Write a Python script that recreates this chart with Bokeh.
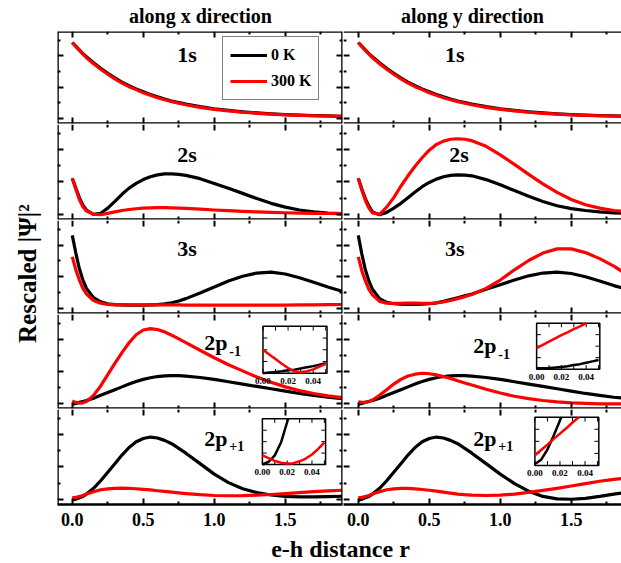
import math
from bokeh.plotting import figure
from bokeh.models import Range1d, FixedTicker, LinearAxis, Label, Legend, LegendItem
from bokeh.layouts import row, column
from bokeh.embed import file_html
from bokeh.resources import INLINE
from bokeh.core.properties import value

# ---------------- data (rescaled |Psi|^2) ----------------
R = [0, 0.025, 0.05, 0.075, 0.1, 0.15, 0.2, 0.25, 0.3, 0.35, 0.4, 0.45, 0.5, 0.55, 0.6,
     0.65, 0.7, 0.75, 0.8, 0.9, 1.0, 1.1, 1.2, 1.3, 1.4, 1.5, 1.6, 1.7, 1.8, 1.9]

S1_X_0K   = [88, 84, 80, 76, 72.5, 66, 60, 54.5, 49.5, 45, 41, 37.5, 34.5, 31.6, 29, 26.6, 24.5, 22.7, 21, 18.3, 16, 14.2, 12.7, 11.5, 10.5, 9.7, 9.1, 8.6, 8.2, 7.8]
S1_X_300K = [88, 83.5, 79.5, 75.5, 71.5, 65, 59, 53.5, 48.5, 44, 40, 36.8, 33.5, 30.7, 28, 25.8, 23.8, 22.0, 20.4, 17.6, 15.4, 13.7, 12.2, 11.1, 10.2, 9.4, 8.8, 8.4, 8.0, 7.7]
S1_Y_0K   = [88, 84, 80, 76, 72.5, 66, 60, 54.5, 49.5, 45, 41, 37.5, 34.5, 31.6, 29, 26.6, 24.5, 22.7, 21, 18.3, 16, 14.2, 12.7, 11.5, 10.5, 9.7, 9.1, 8.6, 8.2, 7.8]
S1_Y_300K = [88, 83.5, 79.5, 75.5, 71.5, 65, 59, 53.5, 48.5, 44, 40, 36.8, 33.5, 30.7, 28, 25.8, 23.8, 22.0, 20.4, 17.6, 15.4, 13.7, 12.2, 11.1, 10.2, 9.4, 8.8, 8.4, 8.0, 7.7]

S2_X_0K   = [43.4, 33, 23, 15, 10, 5.5, 6.5, 12, 19, 26.5, 33, 38, 42, 45, 47, 48, 48, 47.5, 46.5, 43, 38, 33, 27.5, 22, 17, 13, 10, 8, 6.8, 6.2]
S2_X_300K = [43.4, 32, 21, 13.5, 9, 5.5, 5, 6.5, 8, 9.5, 10.5, 11.3, 12, 12.3, 12.5, 12.5, 12.3, 12, 11.8, 11, 10, 9.3, 8.6, 8, 7.5, 7.1, 6.8, 6.5, 6.3, 6.2]
S2_Y_0K   = [43.4, 32, 22, 14, 8, 5, 7.5, 12, 17, 23, 29, 34.5, 39, 42.5, 45, 46.5, 47, 46.8, 46, 42, 36.5, 30.5, 24.5, 19, 14.5, 11.5, 9.5, 8, 7, 6.5]
S2_Y_300K = [43.4, 31, 20, 12, 7, 5.5, 13, 23, 35, 46, 56, 65, 73, 79, 82.5, 84.5, 85, 84.5, 83, 77, 68, 58, 47.5, 37.5, 28.5, 21, 15.5, 12, 9.5, 8]

S3_X_0K   = [84, 65, 48, 36, 27, 17, 12.5, 10.5, 9.5, 9.2, 9, 9, 9, 9.2, 9.5, 10.3, 11.5, 13.5, 16, 22, 28.5, 35, 40, 43.5, 44.5, 42.5, 38.5, 33.5, 28.5, 24]
S3_X_300K = [61, 47, 36, 27, 21, 14, 11, 9.8, 9.3, 9.2, 9.2, 9.2, 9.3, 9.3, 9.3, 9.3, 9.2, 9.2, 9.1, 9, 9, 9, 8.9, 8.9, 9, 9.1, 9.2, 9.3, 9.5, 9.7]
S3_Y_0K   = [84, 64, 47, 35, 26, 16, 12, 10.5, 10, 9.8, 9.8, 10, 10.5, 11.5, 13, 15, 17, 19, 21, 26, 31, 36, 40.5, 43.5, 44.5, 43, 39.5, 35, 30, 25.5]
S3_Y_300K = [61, 46, 35, 26, 20, 13, 11, 10.8, 11, 11.2, 11.2, 11, 10.8, 11.3, 12.5, 14, 16, 18, 20.5, 27, 36, 47, 57, 65, 69.5, 69.5, 65.5, 59, 51, 41]

P1M_X_0K   = [4.5, 5.5, 6.5, 7.5, 8.5, 11, 14, 17, 20, 23, 26, 28.7, 31, 32.7, 34, 34.7, 35, 35, 34.5, 33, 31, 28.5, 26, 23.5, 21, 18.5, 16, 14, 12, 10.5]
P1M_X_300K = [8, 6.5, 5.8, 6, 7.5, 14, 24, 36, 48, 59.5, 70, 78.5, 83.5, 85, 84, 81.5, 78, 74, 70, 62, 54, 46.5, 40, 33.5, 28, 23, 19, 16, 13.5, 11.5]
P1M_Y_0K   = [4.5, 5.5, 6.5, 7.5, 8.5, 11, 14, 17, 20, 23, 26, 28.7, 31, 32.7, 34, 34.7, 35, 35, 34.5, 33, 31, 28.5, 26, 23.5, 21, 18.5, 16, 14, 12, 10.5]
P1M_Y_300K = [7, 6.5, 6.5, 7.5, 9, 14, 20, 26, 31, 34.5, 36.5, 37.5, 37, 35.8, 34, 32, 29.5, 27.2, 25, 20.5, 16.5, 13, 10.5, 8.5, 7, 6, 5.5, 5, 5, 5]

P1P_X_0K   = [4.5, 5.5, 7, 8.5, 11, 17, 25, 34, 43, 52, 60, 66, 69.5, 71, 70, 67.5, 64, 59, 54, 43, 32, 23, 16.5, 12.5, 10, 8.5, 8, 8, 8.3, 8.7]
P1P_X_300K = [7, 7.5, 8.5, 9.5, 11, 13.5, 15.5, 16.5, 17, 17.2, 17, 16.6, 16, 15.3, 14.5, 13.8, 13, 12.2, 11.5, 10.3, 9.5, 9.2, 9.3, 9.8, 10.5, 11.5, 12.5, 13.5, 14.3, 15]
P1P_Y_0K   = [4.5, 5.5, 7, 8.5, 11, 17, 25, 34, 43, 52, 60, 66, 69.5, 71, 70, 67.5, 64, 59, 54, 43, 32, 22, 14, 8.5, 6, 5.5, 6.5, 8.5, 11, 13]
P1P_Y_300K = [7, 7.5, 8.5, 9.5, 11, 13.5, 15.5, 16.5, 17, 17, 16.5, 15.8, 15, 14, 13, 12, 11, 10.3, 9.8, 9.5, 9.8, 11, 12.8, 14.8, 17, 19.5, 22, 24.5, 26.5, 28]

# insets (small r)
IN_R = [0, 0.005, 0.01, 0.015, 0.02, 0.025, 0.03, 0.035, 0.04, 0.045, 0.05]
IN_P1M_X_0K   = [0.0, 0.012, 0.025, 0.04, 0.06, 0.075, 0.1, 0.125, 0.15, 0.18, 0.21]
IN_P1M_X_300K = [0.5, 0.4, 0.3, 0.2, 0.11, 0.04, 0.02, 0.04, 0.08, 0.14, 0.2]
IN_P1M_Y_0K   = [0.02, 0.022, 0.025, 0.035, 0.05, 0.065, 0.09, 0.11, 0.14, 0.17, 0.2]
IN_R_P1M_Y_300K = [0, 0.005, 0.01, 0.015, 0.02, 0.025, 0.03, 0.035, 0.04]
IN_P1M_Y_300K = [0.46, 0.53, 0.6, 0.67, 0.74, 0.8, 0.87, 0.93, 1.0]
IN_R_P1P_X_0K = [0, 0.005, 0.01, 0.015, 0.02, 0.0208]
IN_P1P_X_0K   = [0.0, 0.06, 0.2, 0.48, 0.93, 1.0]
IN_P1P_X_300K = [0.2, 0.14, 0.08, 0.04, 0.02, 0.03, 0.07, 0.13, 0.22, 0.34, 0.48]
IN_R_P1P_Y_0K = [0, 0.005, 0.01, 0.015, 0.02, 0.021]
IN_P1P_Y_0K   = [0.03, 0.12, 0.33, 0.62, 0.93, 1.0]
IN_R_P1P_Y_300K = [0, 0.005, 0.01, 0.015, 0.02, 0.025, 0.03, 0.035]
IN_P1P_Y_300K = [0.21, 0.32, 0.43, 0.55, 0.66, 0.77, 0.89, 1.0]

X_TICKS = [0.0, 0.5, 1.0, 1.5]
X_TICK_LABELS = ["0.0", "0.5", "1.0", "1.5"]
X_MINOR = [0.25, 0.75, 1.25, 1.75]
Y_TICKS = [5.5, 39.5, 73.5]
Y_MINOR = [22.5, 56.5, 90.5]
IN_X_TICKS = [0.0, 0.02, 0.04]
IN_X_TICK_LABELS = ["0.00", "0.02", "0.04"]
IN_X_MINOR = [0.01, 0.03, 0.05]
IN_Y_TICKS = [0.25, 0.5, 0.75]

# ---------------- layout constants ----------------
FONT = "Liberation Serif"
PX_PER_UNIT = 142.0
X0 = -0.104
LEFT_W, RIGHT_W = 285, 278
ROW_H = [92, 95, 93, 94, 95]
TITLE_H = 29
YLAB_W = 55
BORDER_B = 27
RED = "#ff0000"


def make_axis(ticker, fixed=None, line=True, labels=False):
    kw = {}
    if fixed is not None:
        kw["fixed_location"] = fixed
    ax = LinearAxis(ticker=ticker, axis_line_width=2.6,
                    axis_line_color="black" if line else None,
                    major_tick_in=6, major_tick_out=0,
                    minor_tick_in=3, minor_tick_out=0, major_tick_line_width=2,
                    minor_tick_line_width=2, major_tick_line_color="black",
                    minor_tick_line_color="black", major_label_standoff=8, **kw)
    if labels:
        ax.major_label_overrides = {t: l for t, l in zip(X_TICKS, X_TICK_LABELS)}
        ax.major_label_text_font = FONT
        ax.major_label_text_font_style = "bold"
        ax.major_label_text_font_size = "18px"
        ax.major_label_text_color = "black"
    else:
        ax.major_label_text_color = None
    return ax


def blank_fig(w, h, xr, yr):
    return figure(width=w, height=h, x_range=xr, y_range=yr, x_axis_type=None,
                  y_axis_type=None, toolbar_location=None, output_backend="svg",
                  outline_line_color=None, min_border=0, min_border_left=0,
                  min_border_right=0, min_border_top=0, min_border_bottom=0)


def panel(col, ri, y0k, y300k):
    w = LEFT_W if col == 0 else RIGHT_W
    h = ROW_H[ri]
    bl = 2 if col == 0 else 0
    br = 1 if col == 0 else 0
    bt = 2 if ri == 0 else 0
    bb = BORDER_B if ri == 4 else 1
    xr = Range1d(X0, X0 + w / PX_PER_UNIT)
    yr = Range1d(0, 100)
    p = figure(width=w + bl + br, height=h + bt + bb, x_range=xr, y_range=yr,
               x_axis_type=None, y_axis_type=None, toolbar_location=None,
               output_backend="svg", outline_line_color=None, min_border=0,
               min_border_left=bl, min_border_right=br, min_border_top=bt,
               min_border_bottom=bb)
    if ri == 4:
        p.add_layout(make_axis(FixedTicker(ticks=X_TICKS, minor_ticks=X_MINOR), labels=True), "below")
    else:
        p.add_layout(make_axis(FixedTicker(ticks=X_TICKS, minor_ticks=X_MINOR), 0), "below")
    p.add_layout(make_axis(FixedTicker(ticks=X_TICKS, minor_ticks=X_MINOR), 100,
                           line=(ri == 0)), "above")
    p.add_layout(make_axis(FixedTicker(ticks=Y_TICKS, minor_ticks=Y_MINOR), xr.start,
                           line=(col == 0)), "left")
    if col == 0:
        p.add_layout(make_axis(FixedTicker(ticks=Y_TICKS, minor_ticks=Y_MINOR), xr.end), "right")
    lb = p.line(R, y0k, line_color="black", line_width=3.2, line_join="round")
    lr = p.line(R, y300k, line_color=RED, line_width=3.2, line_join="round")
    return p, lb, lr


def name_label(p, x, y, main, sub=None, sub_dy=-8, sub_dx=25):
    p.add_layout(Label(x=x, y=y, text=main, text_font=FONT, text_font_style="bold",
                       text_font_size="22px", text_align="left",
                       text_baseline="middle", text_color="black"))
    if sub:
        p.add_layout(Label(x=x, y=y, x_offset=sub_dx, y_offset=sub_dy, text=sub,
                           text_font=FONT, text_font_style="bold",
                           text_font_size="14px", text_align="left",
                           text_baseline="middle", text_color="black"))


def inset(p, xt, yt, curves):
    sub = p.subplot(x_source=Range1d(0, 0.051), y_source=Range1d(0, 1),
                    x_target=Range1d(*xt), y_target=Range1d(*yt))
    sub.quad(left=[0], right=[0.051], bottom=[0], top=[1], fill_color="white",
             line_color="black", line_width=1.5)
    allx = IN_X_TICKS + IN_X_MINOR
    sub.segment(x0=allx, y0=[0] * len(allx), x1=allx, y1=[0.09] * len(allx),
                line_color="black", line_width=1)
    sub.segment(x0=allx, y0=[1] * len(allx), x1=allx, y1=[0.91] * len(allx),
                line_color="black", line_width=1)
    ny = len(IN_Y_TICKS)
    sub.segment(x0=[0] * ny, y0=IN_Y_TICKS, x1=[0.0035] * ny, y1=IN_Y_TICKS,
                line_color="black", line_width=1)
    sub.segment(x0=[0.051] * ny, y0=IN_Y_TICKS, x1=[0.0475] * ny, y1=IN_Y_TICKS,
                line_color="black", line_width=1)
    sub.text(x=IN_X_TICKS, y=[-0.1] * len(IN_X_TICKS), text=IN_X_TICK_LABELS,
             text_font=value(FONT), text_font_style="bold", text_font_size="9px",
             text_align="center", text_baseline="top", text_color="black")
    for xs, ys, c in curves:
        sub.line(xs, ys, line_color=c, line_width=2.5, line_join="round")


# ---------------- build panels ----------------
data = [
    (S1_X_0K, S1_X_300K, S1_Y_0K, S1_Y_300K),
    (S2_X_0K, S2_X_300K, S2_Y_0K, S2_Y_300K),
    (S3_X_0K, S3_X_300K, S3_Y_0K, S3_Y_300K),
    (P1M_X_0K, P1M_X_300K, P1M_Y_0K, P1M_Y_300K),
    (P1P_X_0K, P1P_X_300K, P1P_Y_0K, P1P_Y_300K),
]
rows = []
panels = []
for ri, (a, b, c, d) in enumerate(data):
    pl, lb, lr = panel(0, ri, a, b)
    pr, _, _ = panel(1, ri, c, d)
    panels.append((pl, pr))
    rows.append(row(pl, pr, spacing=0))
    if ri == 0:
        leg = Legend(items=[LegendItem(label="0 K", renderers=[lb]),
                            LegendItem(label="300 K", renderers=[lr])],
                     location=(165, 23), border_line_color="black",
                     border_line_width=1.2, label_text_font=FONT,
                     label_text_font_style="bold", label_text_font_size="16px",
                     label_text_color="black",
                     glyph_width=37, glyph_height=22, label_height=22,
                     label_standoff=4, padding=7, spacing=4, margin=0,
                     background_fill_color="white", background_fill_alpha=1)
        pl.add_layout(leg)

# panel names
name_label(panels[0][0], 0.74, 75, "1s")
name_label(panels[0][1], 0.61, 75, "1s")
name_label(panels[1][0], 0.74, 68, "2s")
name_label(panels[1][1], 0.64, 68, "2s")
name_label(panels[2][0], 0.74, 70, "3s")
name_label(panels[2][1], 0.61, 70, "3s")
name_label(panels[3][0], 0.93, 70, "2p", "-1")
name_label(panels[3][1], 0.81, 67, "2p", "-1")
name_label(panels[4][0], 0.93, 70, "2p", "+1")
name_label(panels[4][1], 0.81, 70, "2p", "+1")

# insets
inset(panels[3][0], (1.343, 1.794), (37.6, 87.4),
      [(IN_R, IN_P1M_X_0K, "black"), (IN_R, IN_P1M_X_300K, RED)])
inset(panels[3][1], (1.256, 1.701), (41.8, 90.8),
      [(IN_R, IN_P1M_Y_0K, "black"), (IN_R_P1M_Y_300K, IN_P1M_Y_300K, RED)])
inset(panels[4][0], (1.339, 1.784), (42.1, 90.2),
      [(IN_R_P1P_X_0K, IN_P1P_X_0K, "black"), (IN_R, IN_P1P_X_300K, RED)])
inset(panels[4][1], (1.244, 1.694), (41.1, 91.9),
      [(IN_R_P1P_Y_0K, IN_P1P_Y_0K, "black"), (IN_R_P1P_Y_300K, IN_P1P_Y_300K, RED)])

# ---------------- titles and axis labels ----------------
tf = blank_fig(621, TITLE_H, Range1d(0, 621), Range1d(0, TITLE_H))
tf.add_layout(Label(x=200, y=14, text="along x direction", text_font=FONT,
                    text_font_style="bold", text_font_size="20px", text_color="black",
                    text_align="center", text_baseline="middle"))
tf.add_layout(Label(x=472, y=14, text="along y direction", text_font=FONT,
                    text_font_style="bold", text_font_size="20px", text_color="black",
                    text_align="center", text_baseline="middle"))

grid_h = 2 + sum(ROW_H) + 4 + BORDER_B
yf = blank_fig(YLAB_W, grid_h, Range1d(0, YLAB_W), Range1d(0, grid_h))
yf.add_layout(Label(x=27, y=grid_h - 241, text="Rescaled  |\u03a8|\u00b2", angle=math.pi / 2,
                    text_font=FONT, text_font_style="bold", text_font_size="25px",
                    text_color="black", text_align="center", text_baseline="middle"))

XLAB_H = 563 - TITLE_H - grid_h
xf = blank_fig(621, XLAB_H, Range1d(0, 621), Range1d(0, XLAB_H))
xf.add_layout(Label(x=340, y=XLAB_H - 17, text="e-h distance r", text_font=FONT,
                    text_font_style="bold", text_font_size="24px", text_color="black",
                    text_align="center", text_baseline="middle"))

layout = column(tf, row(yf, column(*rows, spacing=0), spacing=0), xf, spacing=0)

open("out.html", "w").write(file_html(layout, INLINE))
